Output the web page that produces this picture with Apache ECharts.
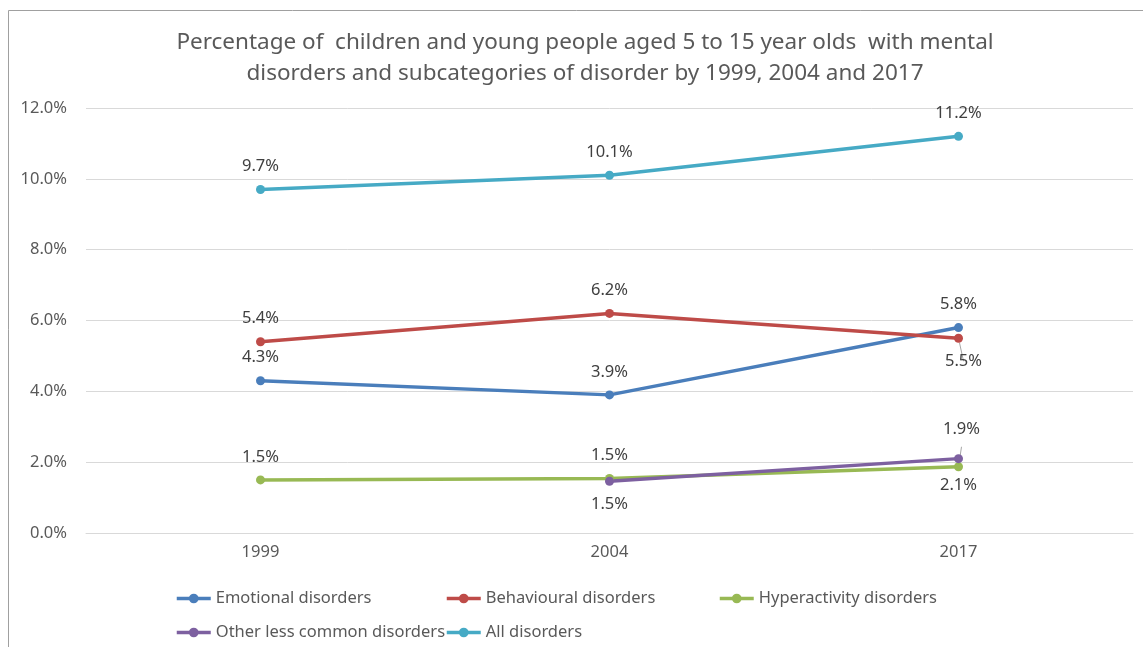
<!DOCTYPE html>
<html>
<head>
<meta charset="utf-8">
<script src="https://cdn.jsdelivr.net/npm/echarts@6/dist/echarts.min.js"></script>
<style>
  html, body { margin: 0; padding: 0; background: #fff; }
  #main { width: 1143px; height: 647px; }
</style>
</head>
<body>
<div id="main"></div>
<script>
// categories and values
var years = ['1999', '2004', '2017'];
var emotional = [4.3, 3.9, 5.8];
var behavioural = [5.4, 6.2, 5.5];
var hyperactivity = [1.5, 1.54, 1.87];
var otherLess = [null, 1.46, 2.1];
var allDisorders = [9.7, 10.1, 11.2];
var yTicks = [0, 2, 4, 6, 8, 10, 12];
var seriesNames = ['Emotional disorders', 'Behavioural disorders', 'Hyperactivity disorders',
    'Other less common disorders', 'All disorders'];

var font = 'Noto Sans';
var textCol = '#595959';

var pct = function (p) {
    return p.value == null ? '' : Number(p.value).toFixed(1) + '%';
};

function mkSeries(name, color, vals, extra) {
    var data = vals.map(function (v, i) {
        if (extra && extra[i]) {
            return Object.assign({ value: v }, extra[i]);
        }
        return v;
    });
    return {
        name: name,
        type: 'line',
        data: data,
        symbol: 'circle',
        symbolSize: 9,
        lineStyle: { width: 3.5, color: color },
        itemStyle: { color: color },
        label: {
            show: true,
            position: 'top',
            distance: 10,
            formatter: pct,
            fontFamily: font,
            fontSize: 16.5,
            color: '#404040'
        },
        labelLine: { show: false },
        emphasis: { disabled: true }
    };
}

// one legend box per entry so the columns line up like the original
var legendPos = [[175, 590], [445, 590], [718, 590], [175, 624], [445, 624]];
var legends = seriesNames.map(function (n, i) {
    return {
        data: [n],
        left: legendPos[i][0],
        top: legendPos[i][1],
        padding: 0,
        itemWidth: 34,
        itemHeight: 12,
        lineStyle: { width: 3.5 },
        textStyle: { fontFamily: font, fontSize: 16.5, color: textCol }
    };
});

var chart = echarts.init(document.getElementById('main'));

var option = {
    animation: false,
    backgroundColor: '#fff',
    graphic: [{
        type: 'rect',
        shape: { x: 8.5, y: 10.5, width: 1200, height: 700 },
        style: { fill: 'none', stroke: '#a0a0a0', lineWidth: 1 },
        silent: true
    }],
    title: {
        text: 'Percentage of  children and young people aged 5 to 15 year olds  with mental\ndisorders and subcategories of disorder by 1999, 2004 and 2017',
        left: 580,
        textAlign: 'center',
        top: 22,
        textStyle: {
            fontFamily: font,
            fontSize: 22.5,
            fontWeight: 'normal',
            color: textCol,
            lineHeight: 31
        }
    },
    legend: legends,
    grid: { left: 86, top: 108, width: 1047, height: 425, containLabel: false },
    xAxis: {
        type: 'category',
        data: years,
        boundaryGap: true,
        axisLine: { lineStyle: { color: '#d9d9d9', width: 1 } },
        axisTick: { show: false },
        axisLabel: { fontFamily: font, fontSize: 16.5, color: textCol, margin: 11 }
    },
    yAxis: {
        type: 'value',
        min: yTicks[0],
        max: yTicks[yTicks.length - 1],
        interval: 2,
        axisLine: { show: false },
        axisTick: { show: false },
        splitLine: { lineStyle: { color: '#d9d9d9', width: 1 } },
        axisLabel: {
            fontFamily: font, fontSize: 16.5, color: textCol, margin: 19,
            formatter: function (v) { return v.toFixed(1) + '%'; }
        }
    },
    series: [
        mkSeries(seriesNames[0], '#4a7ebb', emotional),
        mkSeries(seriesNames[1], '#be4b48', behavioural,
            [null, null, {
                label: { position: 'bottom', distance: 10, offset: [5, 0] },
                labelLine: { show: true, lineStyle: { color: '#a6a6a6', width: 1 } }
            }]),
        mkSeries(seriesNames[2], '#98b954', hyperactivity,
            [null, null, {
                label: { position: 'top', distance: 24, offset: [3, 0] },
                labelLine: { show: true, lineStyle: { color: '#a6a6a6', width: 1 } }
            }]),
        mkSeries(seriesNames[3], '#7d60a0', otherLess,
            [null, { label: { position: 'bottom', distance: 10 } }, { label: { position: 'bottom', distance: 14 } }]),
        mkSeries(seriesNames[4], '#46aac5', allDisorders)
    ]
};

chart.setOption(option);
</script>
</body>
</html>
